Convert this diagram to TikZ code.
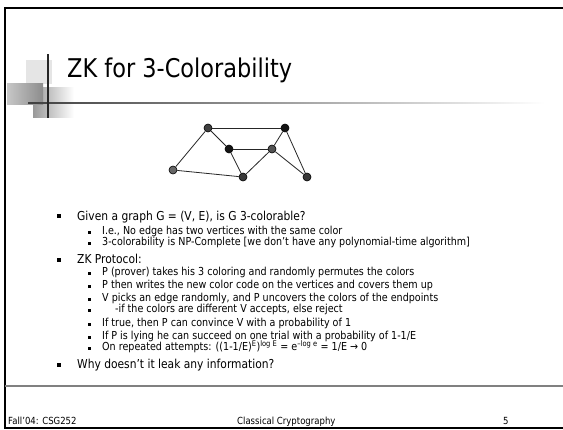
\documentclass[tikz,border=0pt]{standalone}
\usepackage{fontspec}
\setmainfont{DejaVu Sans}[FakeStretch=0.87]
\begin{document}
\begin{tikzpicture}[x=1pt,y=-1pt,
  vtx/.style={circle,draw=black,line width=0.6pt,inner sep=0pt,minimum size=8pt},
  edge/.style={draw=black!85,line width=0.8pt},
  mtext/.style={anchor=base west,inner sep=0pt,font=\fontsize{12.3}{14}\selectfont},
  stext/.style={anchor=base west,inner sep=0pt,font=\fontsize{11}{12}\selectfont},
  ftext/.style={anchor=base west,inner sep=0pt,font=\fontsize{9.8}{11}\selectfont},
  mbul/.style={rectangle,fill=black,inner sep=0pt,minimum size=4pt},
  sbul/.style={rectangle,fill=black,inner sep=0pt,minimum size=3pt}]
\useasboundingbox (0,0) rectangle (563,429);
\clip (0,0) rectangle (563,429);
\fill[white] (0,0) rectangle (563,429);

% title decoration
\fill[black!10] (26,60) rectangle (52,84);
\shade[left color=black!40,right color=white] (33,87) rectangle (74,117);
\shade[left color=black!22,right color=black!45] (7,83) rectangle (43,104);
\shade[left color=black!75,right color=white] (28,102.3) rectangle (545,103.8);
\draw[black!85,line width=1.5pt] (48,54) -- (48,118);

\node[anchor=base west,inner sep=0pt,font=\fontsize{25.8}{30}\selectfont] (title) at (67,77) {ZK for 3-Colorability};

% frame
\draw[line width=2pt] (5,7.5) rectangle (570,427.5);
\draw[black!50,line width=1.5pt] (5,386) -- (563,386);

% graph
\node[vtx,fill=black!75] (A) at (208,128) {};
\node[vtx,fill=black!92] (B) at (285,128) {};
\node[vtx,fill=black!92] (C) at (229,149) {};
\node[vtx,fill=black!68] (D) at (272,149) {};
\node[vtx,fill=black!60] (E) at (173,170) {};
\node[vtx,fill=black!78] (F) at (243,177) {};
\node[vtx,fill=black!78] (G) at (307,177) {};
\draw[edge] (A) -- (B);
\draw[edge] (A) -- (C);
\draw[edge] (A) -- (E);
\draw[edge] (C) -- (D);
\draw[edge] (C) -- (F);
\draw[edge] (E) -- (F);
\draw[edge] (D) -- (F);
\draw[edge] (D) -- (B);
\draw[edge] (D) -- (G);
\draw[edge] (B) -- (G);

% bullets
\node[mbul] (b1) at (59,216) {};
\node[mtext] (t1) at (77,220) {Given a graph G = (V, E), is G 3-colorable?};
\node[sbul] (b2) at (89.5,232) {};
\node[stext] (t2) at (102,234) {I.e., No edge has two vertices with the same color};
\node[sbul] (b3) at (89.5,243.5) {};
\node[stext] (t3) at (102,245.5) {3-colorability is NP-Complete [we don’t have any polynomial-time algorithm]};
\node[mbul] (b4) at (59,259.5) {};
\node[mtext] (t4) at (77,263) {ZK Protocol:};
\node[sbul] (b5) at (89.5,273) {};
\node[stext] (t5) at (102,275) {P (prover) takes his 3 coloring and randomly permutes the colors};
\node[sbul] (b6) at (89.5,286) {};
\node[stext] (t6) at (102,288) {P then writes the new color code on the vertices and covers them up};
\node[sbul] (b7) at (89.5,299) {};
\node[stext] (t7) at (102,301) {V picks an edge randomly, and P uncovers the colors of the endpoints};
\node[sbul] (b8) at (89.5,310) {};
\node[stext] (t8) at (115,312) {-if the colors are different V accepts, else reject};
\node[sbul] (b9) at (89.5,324) {};
\node[stext] (t9) at (102,326) {If true, then P can convince V with a probability of 1};
\node[sbul] (b10) at (89.5,337) {};
\node[stext] (t10) at (102,339) {If P is lying he can succeed on one trial with a probability of 1-1/E};
\node[sbul] (b11) at (89.5,348.5) {};
\node[stext] (t11) at (102,350.5) {On repeated attempts: ((1-1/E)\textsuperscript{E})\textsuperscript{log E} = e\textsuperscript{–log e} = 1/E → 0};
\node[mbul] (b12) at (59,365) {};
\node[mtext] (t12) at (77,368.5) {Why doesn’t it leak any information?};

% footer
\node[ftext] (f1) at (8,424) {Fall’04: CSG252};
\node[ftext] (f2) at (237,424) {Classical Cryptography};
\node[ftext] (f3) at (503,424) {5};
\end{tikzpicture}
\end{document}
